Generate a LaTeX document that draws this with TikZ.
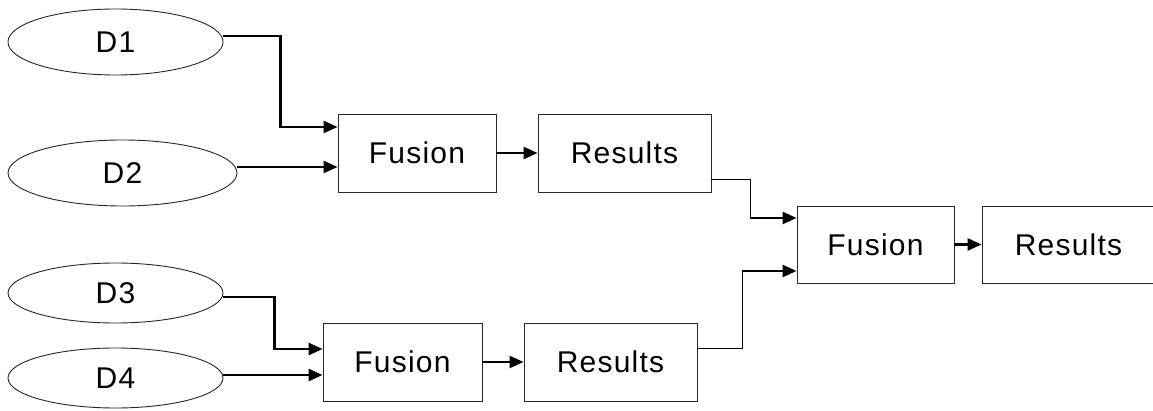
\documentclass[tikz,border=0pt]{standalone}
\usepackage{fontspec}
\setmainfont{Liberation Sans}
\usetikzlibrary{arrows.meta,shapes.geometric}
\begin{document}
\begin{tikzpicture}[x=1pt,y=-1pt,
  txt/.style={font=\fontsize{30}{36}\selectfont\addfontfeature{LetterSpace=4}},
  dnode/.style={ellipse,draw=black!85,line width=0.9pt,inner sep=0pt,txt},
  boxnode/.style={rectangle,draw=black!85,line width=0.9pt,inner sep=0pt,minimum height=78pt,txt},
  arr/.style={line width=2.6pt,-{Triangle[length=14pt,width=12pt]}},
  thinline/.style={line width=0.9pt}]
\useasboundingbox (0,0) rectangle (1153,411);
\node[dnode,minimum width=215pt,minimum height=66pt] (D1) at (115.5,42) {D1};
\node[dnode,minimum width=229pt,minimum height=66pt] (D2) at (122.5,173) {D2};
\node[dnode,minimum width=215pt,minimum height=60pt] (D3) at (115.5,293) {D3};
\node[dnode,minimum width=215pt,minimum height=60pt] (D4) at (115.5,378) {D4};
\node[boxnode,minimum width=158pt] (F1) at (417,153) {Fusion};
\node[boxnode,minimum width=173pt] (R1) at (624.5,153) {Results};
\node[boxnode,minimum width=159pt] (F2) at (402.5,362) {Fusion};
\node[boxnode,minimum width=173pt] (R2) at (610.5,362) {Results};
\node[boxnode,minimum width=157pt,minimum height=77pt] (F3) at (875.5,244.5) {Fusion};
\node[boxnode,minimum width=173pt,minimum height=77pt] (R3) at (1068.5,244.5) {Results};
\draw[arr] ([yshift=6pt]D1.east) -- ++(57,0) |- ([yshift=26pt]F1.west);
\draw[arr] ([yshift=6pt]D2.east) -- ([yshift=-14pt]F1.west);
\draw[arr] ([yshift=-4pt]D3.east) -- ++(51,0) |- ([yshift=13pt]F2.west);
\draw[arr] ([yshift=3pt]D4.east) -- ([yshift=-13pt]F2.west);
\draw[arr] (F1.east) -- (R1.west);
\draw[arr] (F2.east) -- (R2.west);
\draw[arr] (F3.east) -- (R3.west);
\coordinate (c1) at (750,218);
\coordinate (c2) at (742,271);
\draw[thinline] ([yshift=-26pt]R1.east) -| (c1);
\draw[arr] ([xshift=-0.45pt]c1) -- (F3.west |- c1);
\draw[thinline] ([yshift=14pt]R2.east) -| (c2);
\draw[arr] ([xshift=-0.45pt]c2) -- (F3.west |- c2);
\end{tikzpicture}
\end{document}
